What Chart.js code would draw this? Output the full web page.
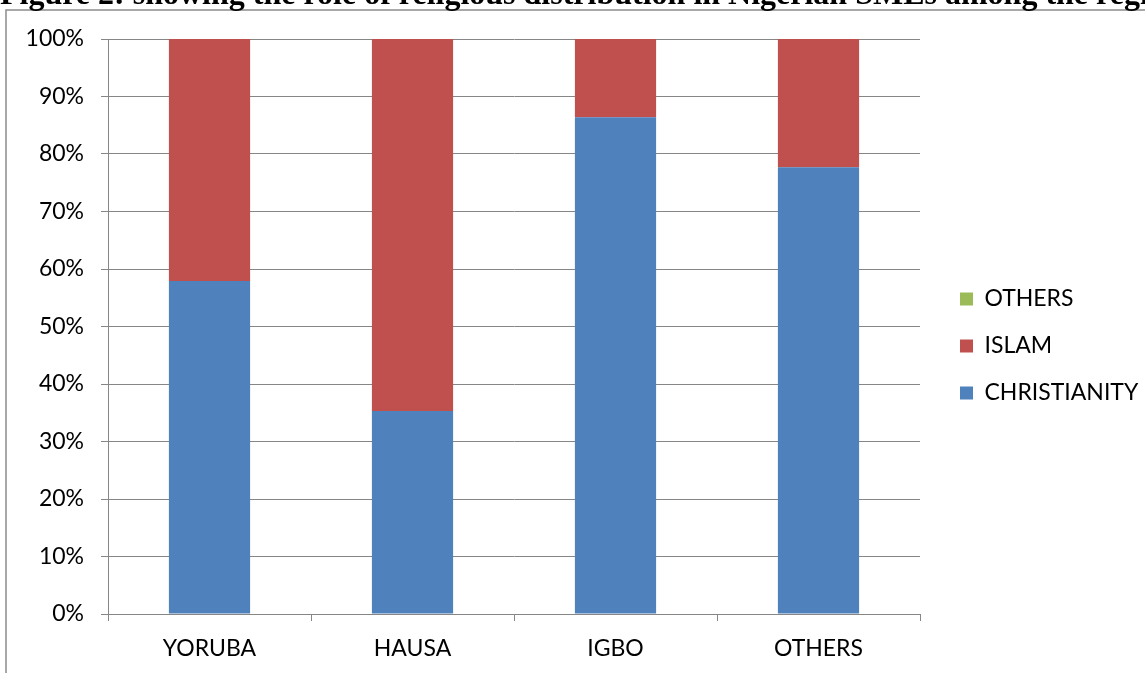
<!DOCTYPE html>
<html>
<head>
<meta charset="utf-8">
<script src="https://cdn.jsdelivr.net/npm/chart.js@4.4.1/dist/chart.umd.min.js"></script>
<style>
html, body { margin: 0; padding: 0; background: #fff; overflow: hidden; }
#wrap { position: relative; width: 1145px; height: 673px; overflow: hidden; }
#title { position: absolute; left: 0px; top: -22px; font: bold 32px "Liberation Serif", "Times New Roman", serif; line-height: 30px; white-space: nowrap; color: #000; z-index: 2; }
canvas { position: absolute; left: 0; top: 0; }
</style>
</head>
<body>
<div id="wrap">
  <div id="title">Figure 2: showing the role of religious distribution in Nigerian SMEs among the regions</div>
  <canvas id="myChart" width="1145" height="673"></canvas>
</div>
<script>
// dati (percentuali)
var categories = ["YORUBA", "HAUSA", "IGBO", "OTHERS"];
var christianity = [57.9, 35.3, 86.4, 77.7];
var islam = [42.1, 64.7, 13.6, 22.3];
var others = [0, 0, 0, 0];
var seriesNames = ["CHRISTIANITY", "ISLAM", "OTHERS"];
var seriesColors = ["#4F81BD", "#C0504D", "#9BBB59"];

var labelFont = { family: "Lato", size: 23 };

// bordo del riquadro (linea sinistra e superiore)
var frameBorder = {
  id: "frameBorder",
  beforeDraw: function(chart) {
    var ctx = chart.ctx;
    ctx.save();
    ctx.strokeStyle = "#8c8c8c";
    ctx.lineWidth = 1.5;
    ctx.beginPath();
    ctx.moveTo(6, 673);
    ctx.lineTo(6, 10);
    ctx.lineTo(1145, 10);
    ctx.stroke();
    ctx.restore();
  }
};

function init() {
  var ctx = document.getElementById("myChart").getContext("2d");
  var data = [christianity, islam, others];
  var datasets = [];
  for (var i = 0; i < seriesNames.length; i++) {
    datasets.push({
      label: seriesNames[i],
      data: data[i],
      backgroundColor: seriesColors[i],
      borderWidth: 0,
      barPercentage: 0.4,
      categoryPercentage: 1
    });
  }

  var chart = new Chart(ctx, {
    type: "bar",
    data: { labels: categories, datasets: datasets },
    options: {
      responsive: false,
      animation: false,
      layout: { padding: { top: 39, left: 0, right: 0, bottom: 0 } },
      plugins: {
        tooltip: { enabled: false },
        legend: {
          position: "right",
          fullSize: false,
          reverse: true,
          maxWidth: 209,
          // titolo vuoto: serve solo a spostare le voci in basso
          title: { display: true, text: " ", font: { size: 25, lineHeight: 1 }, padding: 7 },
          labels: {
            boxWidth: 13,
            boxHeight: 13,
            padding: 24,
            color: "#000",
            font: labelFont
          }
        }
      },
      scales: {
        x: {
          stacked: true,
          offset: true,
          grid: { offset: true, drawOnChartArea: false, tickLength: 7, color: "#868686" },
          border: { color: "#868686" },
          ticks: { color: "#000", font: labelFont, padding: 14, maxRotation: 0 },
          afterFit: function(s) { s.height = 59; }
        },
        y: {
          stacked: true,
          min: 0,
          max: 100,
          grid: { color: "#868686", tickLength: 7 },
          border: { color: "#868686" },
          ticks: {
            stepSize: 10,
            color: "#000",
            font: labelFont,
            padding: 17,
            callback: function(v) { return v + "%"; }
          },
          afterFit: function(s) { s.width = 108; }
        },
        y2: {
          position: "right",
          grid: { display: false },
          border: { display: false },
          ticks: { display: false },
          afterFit: function(s) { s.width = 16; }
        }
      }
    },
    plugins: [frameBorder]
  });
}

init();
</script>
</body>
</html>
